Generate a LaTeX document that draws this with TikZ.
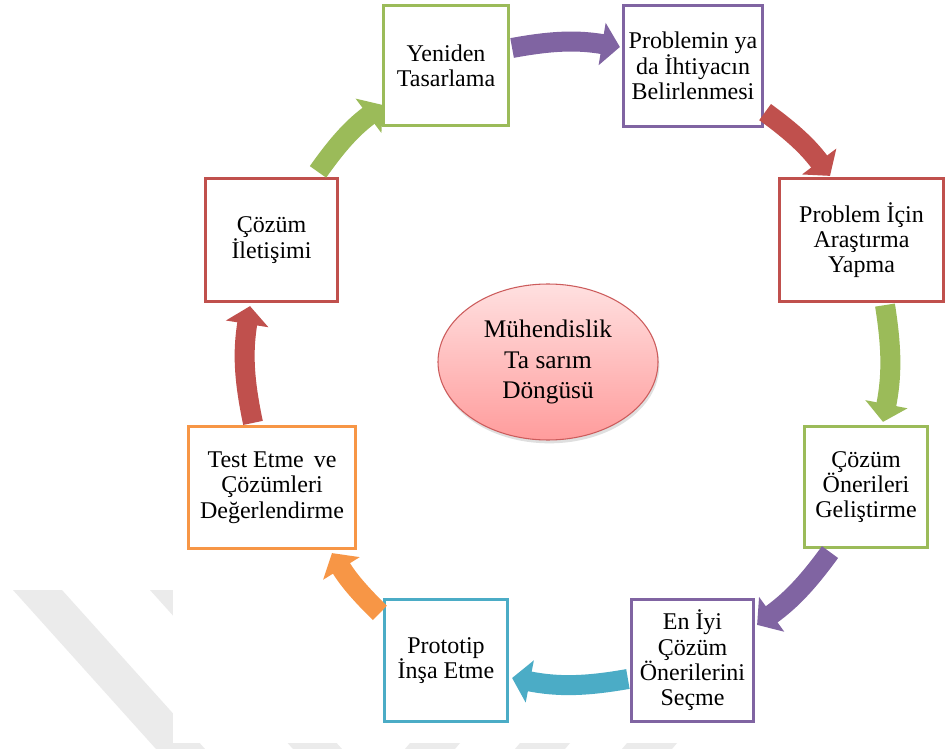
\documentclass[tikz,border=0pt]{standalone}
\usepackage{fontspec}
\setmainfont{Liberation Serif}
\usetikzlibrary{calc,arrows.meta,shapes.geometric,shadows}
\definecolor{cgreen}{HTML}{9BBB59}
\definecolor{cpurple}{HTML}{8064A2}
\definecolor{cred}{HTML}{C0504D}
\definecolor{cteal}{HTML}{4BACC6}
\definecolor{corange}{HTML}{F79646}
\definecolor{wm}{HTML}{EBEBEB}
\definecolor{elltop}{HTML}{FFE0E0}
\definecolor{ellbot}{HTML}{FF9C9C}
\definecolor{elledge}{HTML}{CC5C5C}
\begin{document}
\begin{tikzpicture}[x=0.75pt,y=-0.75pt,
  box/.style={draw, line width=2.4pt, fill=white, align=center, inner sep=0pt,
    font=\fontsize{18}{19}\selectfont},
  flow/.style={line width=15pt, -{Triangle[length=13.5pt,width=31.5pt]}},
  wmstripe/.style={fill=wm, draw=none}
]
% canvas
\fill[white] (0,0) rectangle (947,749);
\useasboundingbox (0,0) rectangle (947,749);
% faint watermark stripes
\fill[wmstripe] (13,590) -- (62,590) -- (205,749) -- (156,749) -- cycle;
\fill[wmstripe] (150,590) -- (199,590) -- (342,749) -- (293,749) -- cycle;
\fill[wmstripe] (410,743) -- (460,743) -- (455,749) -- (405,749) -- cycle;
\fill[wmstripe] (520,743) -- (570,743) -- (565,749) -- (515,749) -- cycle;
\fill[wmstripe] (627,743) -- (677,743) -- (672,749) -- (622,749) -- cycle;
\fill[white] (173,0) rectangle (947,743);

% boxes
\node[box, draw=cgreen, minimum width=93.75pt, minimum height=90pt] (yen) at (446,65.5) {Yeniden\\Tasarlama};
\node[box, draw=cpurple, minimum width=104.25pt, minimum height=90.75pt] (prob) at (693,66) {Problemin ya\\da İhtiyacın\\Belirlenmesi};
\node[box, draw=cred, minimum width=123pt, minimum height=92.25pt] (ara) at (861.5,240) {Problem İçin\\Araştırma\\Yapma};
\node[box, draw=cgreen, minimum width=92.25pt, minimum height=90.75pt] (gel) at (866,487) {Çözüm\\Önerileri\\Geliştirme};
\node[box, draw=cpurple, minimum width=91.5pt, minimum height=91.5pt] (sec) at (692.5,660.5) {En İyi\\Çözüm\\Önerilerini\\Seçme};
\node[box, draw=cteal, minimum width=92.25pt, minimum height=91.5pt] (pro) at (446,660.5) {Prototip\\İnşa Etme};
\node[box, draw=corange, minimum width=125.25pt, minimum height=91.5pt] (test) at (272,487.5) {Test Etme\, ve\\Çözümleri\\Değerlendirme};
\node[box, draw=cred, minimum width=99pt, minimum height=92.25pt] (ilet) at (271.5,240) {Çözüm\\İletişimi};

% centre ellipse
\node[ellipse, draw=elledge, line width=0.8pt, top color=elltop, bottom color=ellbot,
  minimum width=165pt, minimum height=117pt, align=center, inner sep=0pt,
  drop shadow={opacity=0.25, shadow xshift=1pt, shadow yshift=-2.5pt},
  font=\fontsize{19}{23}\selectfont] (cyc) at (548,362) {Mühendislik\\Ta sarım\\Döngüsü};

% cycle arrows
\draw[flow, cpurple] ($(yen.east)+(2,-17.5)$) to[bend left=10] ($(prob.west)+(-2,-19)$);
\draw[flow, cred] ($(prob.south east)+(1,-16)$) to[bend left=8.5] ($(ara.north)+(-31.5,-1)$);
\draw[flow, cgreen] ($(ara.south)+(23.5,2)$) to[bend left=10] ($(gel.north)+(17,-3)$);
\draw[flow, cpurple] ($(gel.south)+(-36,3)$) to[bend left=9] ($(sec.north east)+(2,27)$);
\draw[flow, cteal] ($(sec.west)+(-2,18.5)$) to[bend left=10.5] ($(pro.east)+(3,17.5)$);
\draw[flow, corange] ($(pro.north west)+(-3,15)$) to[bend left=7] ($(test.south)+(60,3)$);
\draw[flow, cred] ($(test.north)+(-19,-2)$) to[bend left=10.5] ($(ilet.south)+(-21.5,3)$);
\draw[flow, cgreen] ($(ilet.north)+(46.5,-5)$) to[bend left=9] ($(yen.west)+(1,39.5)$);
\end{tikzpicture}
\end{document}
